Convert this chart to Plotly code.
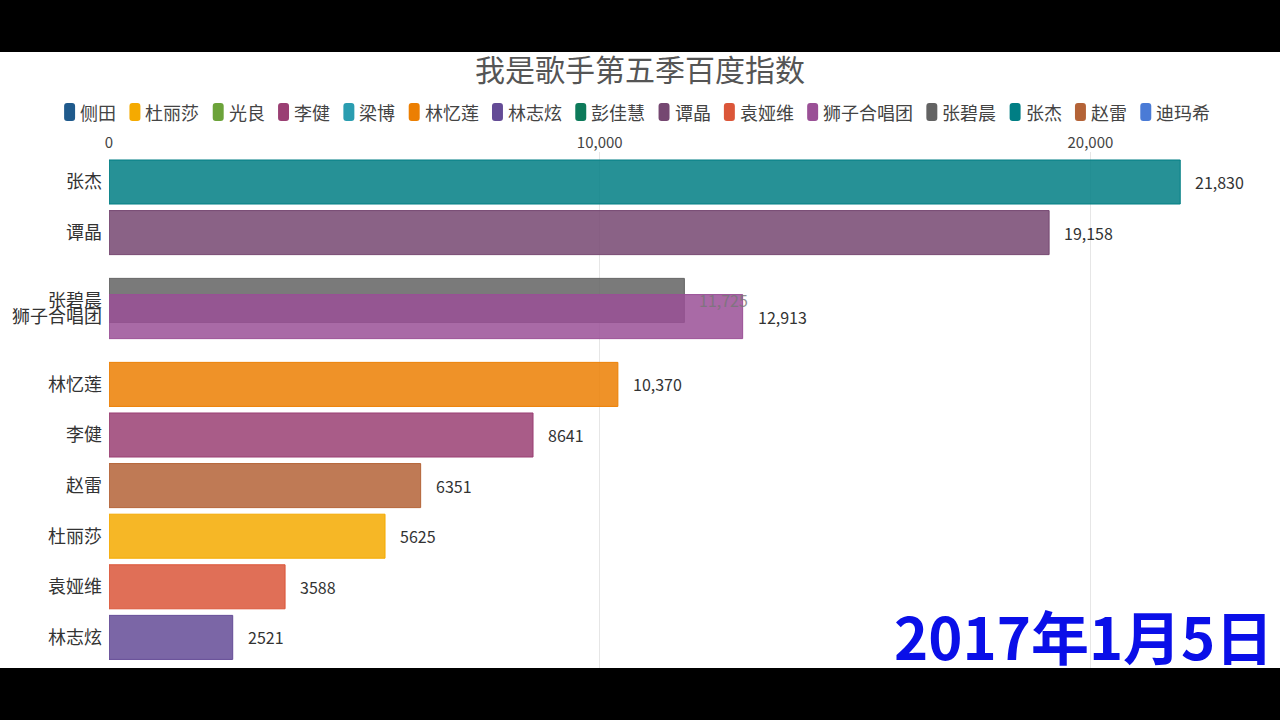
import plotly.graph_objects as go

# ---------------- data ----------------
title_text = "我是歌手第五季百度指数"
date_text = "2017年1月5日"

legend_names = ["侧田", "杜丽莎", "光良", "李健", "梁博", "林忆莲", "林志炫", "彭佳慧",
                "谭晶", "袁娅维", "狮子合唱团", "张碧晨", "张杰", "赵雷", "迪玛希"]

bar_names = ["张杰", "谭晶", "张碧晨", "狮子合唱团", "林忆莲", "李健", "赵雷", "杜丽莎", "袁娅维", "林志炫"]
bar_values = [21830, 19158, 11725, 12913, 10370, 8641, 6351, 5625, 3588, 2521]
# animated (interpolated) rank of each bar at this frame
bar_ranks = [1, 2, 3.34, 3.66, 5, 6, 7, 8, 9, 10]

x_ticks = [0, 10000, 20000]

# ---------------- styles ----------------
palette = {
    "侧田": "#1f5a8c", "杜丽莎": "#f5aa00", "光良": "#6ca33a", "李健": "#9a3f73",
    "梁博": "#2a9db0", "林忆莲": "#ec7f02", "林志炫": "#644b96", "彭佳慧": "#0d7a5a",
    "谭晶": "#754771", "袁娅维": "#db5639", "狮子合唱团": "#9a5096", "张碧晨": "#636363",
    "张杰": "#007e84", "赵雷": "#b46337", "迪玛希": "#4a7bd6",
}
FONT = "Noto Sans CJK SC, Noto Sans, sans-serif"
W, H = 1280, 720
ML, MR, MT, MB = 106, 30, 152, 52
PW, PH = W - ML - MR, H - MT - MB
X_PER_PX = 20000 / 984.0
SLOT = 50.6


def hex_rgba(h, a):
    h = h.lstrip("#")
    r, g, b = int(h[0:2], 16), int(h[2:4], 16), int(h[4:6], 16)
    return f"rgba({r},{g},{b},{a})"


def px_x(px):
    return (px - ML) / PW


def px_y(py):
    return 1 - (py - MT) / PH


fig = go.Figure()

for name, val, rk in zip(bar_names, bar_values, bar_ranks):
    col = palette[name]
    fig.add_trace(go.Bar(
        x=[val], y=[rk], orientation="h", width=0.87,
        marker=dict(color=hex_rgba(col, 0.85), line=dict(color=col, width=1)),
        name=name, showlegend=False, hoverinfo="x+name",
    ))

annotations = []
for name, val, rk in zip(bar_names, bar_values, bar_ranks):
    txt = f"{val:,}" if val >= 10000 else str(val)
    faded = (name == "张碧晨")
    annotations.append(dict(
        x=val, y=rk, xref="x", yref="y", text=txt, showarrow=False,
        xanchor="left", yanchor="middle", xshift=13,
        font=dict(family=FONT, size=16, color="#777777" if faded else "#333333"),
        opacity=0.8 if faded else 1,
    ))

# custom legend row
shapes = []
cx = 61
ly = 112
for name in legend_names:
    col = palette[name]
    x0, x1 = px_x(cx), px_x(cx + 11)
    y0, y1 = px_y(ly + 9), px_y(ly - 9)
    rx, ry = 3 / PW, 3 / PH
    path = (f"M{x0+rx},{y0} L{x1-rx},{y0} Q{x1},{y0} {x1},{y0+ry} L{x1},{y1-ry} "
            f"Q{x1},{y1} {x1-rx},{y1} L{x0+rx},{y1} Q{x0},{y1} {x0},{y1-ry} "
            f"L{x0},{y0+ry} Q{x0},{y0} {x0+rx},{y0} Z")
    shapes.append(dict(type="path", xref="paper", yref="paper", path=path,
                       fillcolor=col, line=dict(width=0), layer="above"))
    annotations.append(dict(
        x=px_x(cx + 14), y=px_y(ly), xref="paper", yref="paper", text=name,
        showarrow=False, xanchor="left", yanchor="middle",
        font=dict(family=FONT, size=18, color="#444444"),
    ))
    cx += 15 + 18 * len(name) + 14.5

# date label
annotations.append(dict(
    x=px_x(1275), y=px_y(635), xref="paper", yref="paper", text=f"<b>{date_text}</b>",
    showarrow=False, xanchor="right", yanchor="middle",
    font=dict(family=FONT, size=58, color="#0a0fe8"),
))

# black letterbox bands
shapes.append(dict(type="rect", xref="paper", yref="paper",
                   x0=px_x(-10), x1=px_x(W + 10), y0=px_y(52), y1=px_y(-10),
                   fillcolor="black", line=dict(width=0), layer="above"))
shapes.append(dict(type="rect", xref="paper", yref="paper",
                   x0=px_x(-10), x1=px_x(W + 10), y0=px_y(H + 10), y1=px_y(668),
                   fillcolor="black", line=dict(width=0), layer="above"))

fig.update_layout(
    width=W, height=H,
    margin=dict(l=ML, r=MR, t=MT, b=MB, pad=0),
    paper_bgcolor="white", plot_bgcolor="white",
    showlegend=False,
    barmode="overlay",
    title=dict(text=title_text, x=0.5, xanchor="center", xref="container",
               y=1 - 70 / H, yanchor="middle", yref="container",
               font=dict(family=FONT, size=30, color="#555555")),
    xaxis=dict(side="top", range=[0, PW * X_PER_PX], tickvals=x_ticks,
               tickformat=",", showgrid=True, gridcolor="#e6e6e6", gridwidth=1,
               zeroline=False, showline=False, ticks="",
               tickfont=dict(family=FONT, size=15, color="#444444")),
    yaxis=dict(range=[1 + (668 - 182) / SLOT, 1 - (182 - 152) / SLOT], autorange=False,
               tickvals=bar_ranks, ticktext=bar_names, showgrid=False, zeroline=False,
               showline=False, ticks="", ticklabelstandoff=6,
               tickfont=dict(family=FONT, size=18, color="#333333")),
    annotations=annotations,
    shapes=shapes,
)

fig.write_html(
    "out.html",
    config={"displayModeBar": False},
    post_script="document.body.style.margin='0';document.body.style.overflow='hidden';",
)
